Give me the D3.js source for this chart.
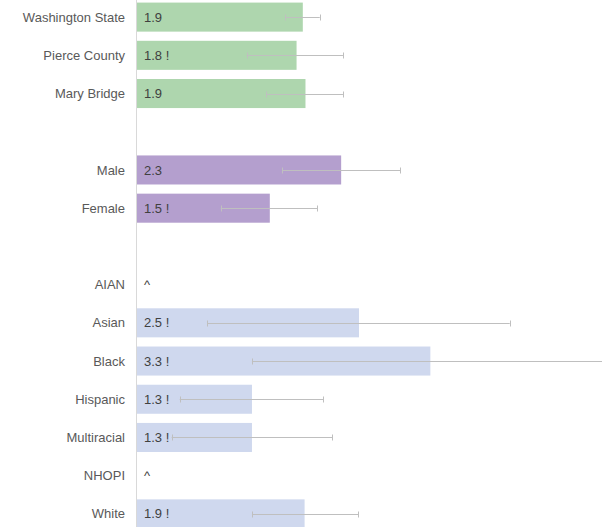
<!DOCTYPE html>
<html><head><meta charset="utf-8">
<script src="https://cdn.jsdelivr.net/npm/d3@7"></script>
<style>body{margin:0;background:#fff;}svg{display:block;font-family:"Liberation Sans",Arial,sans-serif;}</style>
</head><body><svg id="c" width="602" height="527"></svg>
<script>
const categories = ["Washington State","Pierce County","Mary Bridge","gap1","Male","Female","gap2","AIAN","Asian","Black","Hispanic","Multiracial","NHOPI","White"];
const values =     [1.87, 1.80, 1.90, null, 2.30, 1.50, null, null, 2.50, 3.30, 1.30, 1.30, null, 1.89];
const lower =      [1.67, 1.24, 1.46, null, 1.64, 0.95, null, null, 0.80, 1.30, 0.49, 0.40, null, 1.30];
const upper =      [2.06, 2.32, 2.32, null, 2.96, 2.03, null, null, 4.19, 5.60, 2.10, 2.20, null, 2.49];
const valueLabels = ["1.9","1.8 !","1.9","","2.3","1.5 !","","^","2.5 !","3.3 !","1.3 !","1.3 !","^","1.9 !"];
const groups =     ["all","all","all","","sex","sex","","race","race","race","race","race","race","race"];
const groupColors = {all:"#aed6ae", sex:"#b49fce", race:"#cfd8ee"};

const svg = d3.select("#c");
const x0 = 136;
const x = d3.scaleLinear().domain([0, 1]).range([x0, x0 + 89.2]);
const y = d3.scaleBand().domain(categories).range([-2, 533]).paddingInner(0.24).paddingOuter(0.12);

const rows = categories.map((c,i)=>({c, v:values[i], lo:lower[i], hi:upper[i], lab:valueLabels[i], g:groups[i]}));

svg.selectAll("rect.bar").data(rows.filter(d=>d.v!=null)).join("rect")
  .attr("class","bar")
  .attr("x", x(0)).attr("y", d=>y(d.c))
  .attr("width", d=>x(d.v)-x(0)).attr("height", y.bandwidth())
  .attr("fill", d=>groupColors[d.g]);

// axis line
svg.append("line").attr("x1",x0+0.5).attr("x2",x0+0.5).attr("y1",0).attr("y2",527)
  .attr("stroke","#d9d9d9").attr("stroke-width",1);

// category labels
svg.selectAll("text.cat").data(rows.filter(d=>!d.c.startsWith("gap"))).join("text")
  .attr("class","cat")
  .attr("x", 125).attr("y", d=>y(d.c)+y.bandwidth()/2)
  .attr("dy","0.35em").attr("text-anchor","end")
  .attr("font-size",13).attr("fill","#595959").text(d=>d.c);

// error bars
const eb = svg.selectAll("g.eb").data(rows.filter(d=>d.lo!=null)).join("g").attr("class","eb");
eb.append("line").attr("x1",d=>x(d.lo)).attr("x2",d=>x(d.hi))
  .attr("y1",d=>Math.round(y(d.c)+y.bandwidth()/2)+0.5).attr("y2",d=>Math.round(y(d.c)+y.bandwidth()/2)+0.5)
  .attr("stroke","#bfbfbf").attr("stroke-width",1);
eb.selectAll("line.cap").data(d=>[[d,d.lo],[d,d.hi]]).join("line").attr("class","cap")
  .attr("x1",e=>Math.round(x(e[1]))+0.5).attr("x2",e=>Math.round(x(e[1]))+0.5)
  .attr("y1",e=>Math.round(y(e[0].c)+y.bandwidth()/2)-2.5).attr("y2",e=>Math.round(y(e[0].c)+y.bandwidth()/2)+3.5)
  .attr("stroke","#bfbfbf").attr("stroke-width",1);

// value labels
svg.selectAll("text.val").data(rows.filter(d=>d.lab!=="")).join("text")
  .attr("class","val")
  .attr("x", x(0)+8).attr("y", d=>y(d.c)+y.bandwidth()/2)
  .attr("dy","0.35em").attr("font-size",13).attr("fill","#404040").text(d=>d.lab);
</script></body></html>
